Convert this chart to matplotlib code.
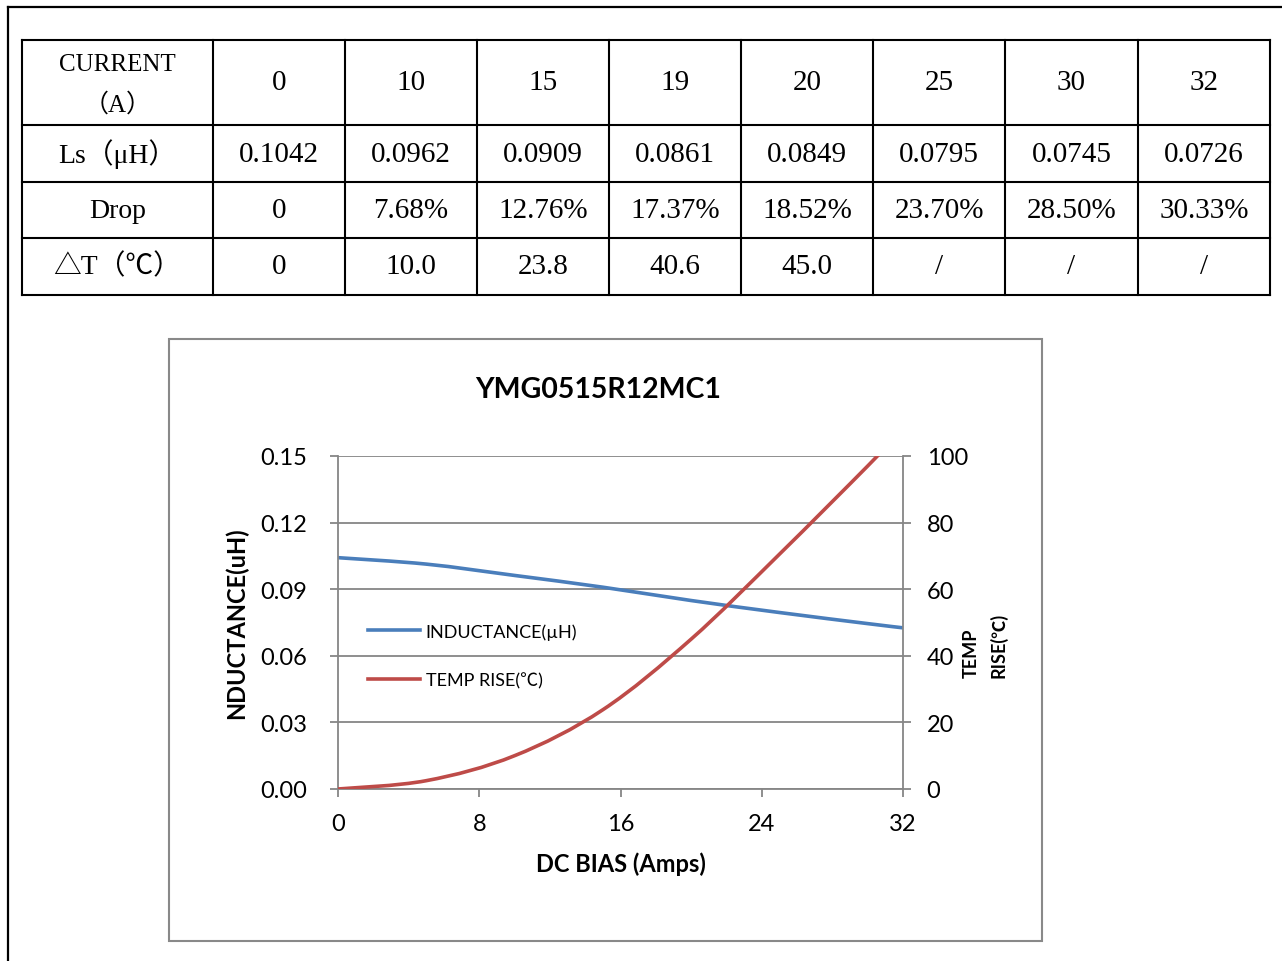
import numpy as np
import matplotlib.pyplot as plt
from matplotlib.path import Path
from matplotlib.patches import PathPatch, Rectangle
from matplotlib.lines import Line2D

plt.rcParams['font.family'] = ['Lato', 'Noto Sans CJK SC', 'DejaVu Sans']

# table values
currents = ["0", "10", "15", "19", "20", "25", "30", "32"]
ls_vals = ["0.1042", "0.0962", "0.0909", "0.0861", "0.0849", "0.0795", "0.0745", "0.0726"]
drops = ["0", "7.68%", "12.76%", "17.37%", "18.52%", "23.70%", "28.50%", "30.33%"]
temps = ["0", "10.0", "23.8", "40.6", "45.0", "/", "/", "/"]
row_heads = ["CURRENT\n（A）", "Ls（μH）", "Drop", "△T（℃）"]

# chart series
bias = [0, 5, 10, 15, 20, 25, 30, 32]
inductance = [0.1042, 0.1013, 0.0962, 0.0909, 0.0849, 0.0795, 0.0745, 0.0726]
temp_rise = [0, 2.5, 10.0, 23.8, 45.0, 70.5, 97.0, 108.0]

W, H = 1282, 962
fig = plt.figure(figsize=(W / 100, H / 100), dpi=100)

# page layer: outer border + table
page = fig.add_axes([0, 0, 1, 1])
page.set_xlim(0, W)
page.set_ylim(H, 0)
page.axis('off')
page.plot([8, W], [8, 8], color='black', lw=1.6)
page.plot([8, 8], [8, H], color='black', lw=1.6)

col_edges = [22, 213, 345, 477, 609, 741, 873, 1005, 1138, 1270]
row_edges = [41, 126, 183, 239, 296]
for x in col_edges:
    page.plot([x, x], [row_edges[0], row_edges[-1]], color='black', lw=1.5)
for y in row_edges:
    page.plot([col_edges[0], col_edges[-1]], [y, y], color='black', lw=1.5)

serif = ['Liberation Serif', 'Noto Sans CJK SC']
rows = [currents, ls_vals, drops, temps]
for r, vals in enumerate(rows):
    cy = (row_edges[r] + row_edges[r + 1]) / 2
    cx = (col_edges[0] + col_edges[1]) / 2
    size = 18 if r == 0 else 20
    page.text(cx, cy + (2 if r == 0 else 0), row_heads[r], ha='center', va='center',
              fontsize=size, family=serif, linespacing=1.9)
    for c, v in enumerate(vals):
        cx = (col_edges[c + 1] + col_edges[c + 2]) / 2
        page.text(cx, cy, v, ha='center', va='center', fontsize=21, family=serif)

# chart frame
page.add_patch(Rectangle((169, 340), 1042 - 169, 942 - 340, fill=False,
                         edgecolor='#898989', lw=1.5))


def smooth_path(xs, ys):
    pts = np.column_stack([xs, ys]).astype(float)
    n = len(pts)
    verts = [pts[0]]
    codes = [Path.MOVETO]
    for i in range(n - 1):
        p0 = pts[max(i - 1, 0)]
        p1 = pts[i]
        p2 = pts[i + 1]
        p3 = pts[min(i + 2, n - 1)]
        verts += [p1 + (p2 - p0) / 6, p2 - (p3 - p1) / 6, p2]
        codes += [Path.CURVE4] * 3
    return Path(verts, codes)


grid_c = '#868686'
blue = '#4A7EBB'
red = '#BE4B48'

ax = fig.add_axes([338 / W, 1 - 790 / H, 565 / W, 333 / H])
ax.set_xlim(0, 32)
ax.set_ylim(0, 0.15)
ax.set_xticks([0, 8, 16, 24, 32])
ax.set_yticks(np.arange(0, 0.151, 0.03))
ax.set_yticklabels([f"{v:.2f}" for v in np.arange(0, 0.151, 0.03)])
ax.grid(axis='y', color=grid_c, lw=1.3)
ax.set_axisbelow(True)
for s in ['top', 'right']:
    ax.spines[s].set_visible(False)
for s in ['left', 'bottom']:
    ax.spines[s].set_color(grid_c)
    ax.spines[s].set_linewidth(1.3)
ax.tick_params(axis='y', direction='out', length=6, width=1.3, color=grid_c,
               labelsize=17, pad=16)
ax.tick_params(axis='x', direction='out', length=6, width=1.3, color=grid_c,
               labelsize=17, pad=11)
ax.add_patch(PathPatch(smooth_path(bias, inductance), fill=False,
                       edgecolor=blue, lw=2.6, capstyle='round'))

ax2 = ax.twinx()
ax2.set_ylim(0, 100)
ax2.set_yticks(range(0, 101, 20))
for s in ['top', 'left', 'bottom']:
    ax2.spines[s].set_visible(False)
ax2.spines['right'].set_color(grid_c)
ax2.spines['right'].set_linewidth(1.3)
ax2.tick_params(axis='y', direction='out', length=6, width=1.3, color=grid_c,
                labelsize=17, pad=11)
ax2.add_patch(PathPatch(smooth_path(bias, temp_rise), fill=False,
                        edgecolor=red, lw=2.6, capstyle='round'))

ax.set_ylabel("NDUCTANCE(uH)", fontsize=17, fontweight='bold', va='center')
ax.yaxis.set_label_coords(-0.179, 0.5)
ax.set_xlabel("DC BIAS (Amps)", fontsize=17, fontweight='bold', va='center')
ax.xaxis.set_label_coords(0.5, -0.222)
ax2.set_ylabel("TEMP\nRISE(℃)", fontsize=13, fontweight='bold', va='center',
               ha='center', multialignment='left', rotation=90, linespacing=1.6)
ax2.yaxis.set_label_coords(1.145, 0.435)

fig.text(598 / W, 1 - 390 / H, "YMG0515R12MC1", ha='center', va='center',
         fontsize=20.5, fontweight='bold')

handles = [Line2D([], [], color=blue, lw=2.6), Line2D([], [], color=red, lw=2.6)]
ax2.legend(handles, ["INDUCTANCE(µH)", "TEMP RISE(℃)"], loc='center left',
           bbox_to_anchor=(0.053, 0.40), frameon=False, fontsize=13,
           handlelength=2.9, handletextpad=0.3, labelspacing=1.8,
           borderpad=0, borderaxespad=0)

fig.savefig("out.png", dpi=100)
